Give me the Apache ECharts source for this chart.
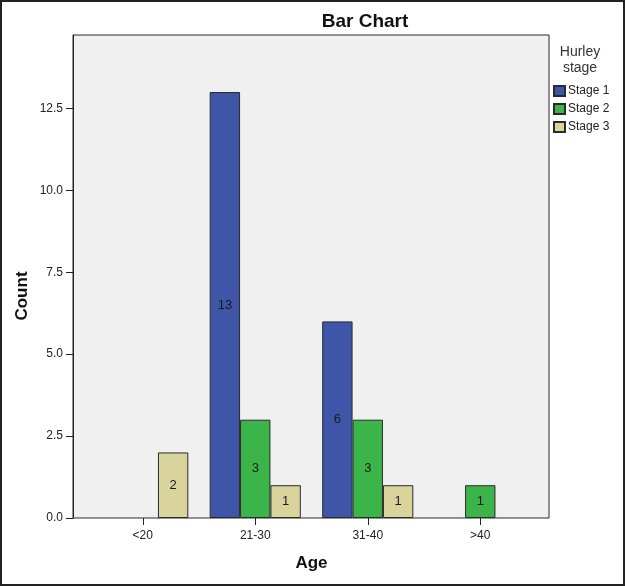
<!DOCTYPE html>
<html>
<head>
<meta charset="utf-8">
<script src="https://cdn.jsdelivr.net/npm/echarts@6/dist/echarts.min.js"></script>
<style>
  html, body { margin: 0; padding: 0; background: #fff; }
  #chart { width: 625px; height: 586px; }
</style>
</head>
<body>
<div id="chart"></div>
<script>
// data
const ageGroups = ['<20', '21-30', '31-40', '>40']
const stageNames = ['Stage 1', 'Stage 2', 'Stage 3']
const stage1 = [null, 13, 6, null]
const stage2 = [null, 3, 3, 1]
const stage3 = [2, 1, 1, null]
const yMax = 14.74

const colors = ['#3f55a8', '#3bb44a', '#d8d49c']
const stageData = [stage1, stage2, stage3]

const myChart = echarts.init(document.getElementById('chart'))

const series = stageNames.map((name, i) => {
  return {
    name: name,
    type: 'bar',
    xAxisIndex: 1,
    yAxisIndex: 1,
    data: stageData[i],
    barGap: '0%',
    barCategoryGap: '19%',
    itemStyle: {
      color: colors[i],
      borderColor: '#2a2a2a',
      borderWidth: 1
    },
    label: {
      show: true,
      position: 'inside',
      color: '#1a1a1a',
      fontSize: 13,
      fontFamily: 'Liberation Sans'
    },
    emphasis: { disabled: true }
  }
})

const option = {
  animation: false,
  textStyle: { fontFamily: 'Liberation Sans' },
  title: [
    {
      text: 'Bar Chart',
      left: 365,
      top: 12,
      textAlign: 'center',
      padding: 0,
      textStyle: { fontSize: 19, fontWeight: 'bold', color: '#111' }
    },
    {
      text: 'Hurley\nstage',
      left: 580,
      top: 44,
      textAlign: 'center',
      padding: 0,
      textStyle: { fontSize: 14, fontWeight: 'normal', color: '#333', lineHeight: 16 }
    }
  ],
  legend: {
    orient: 'vertical',
    left: 553,
    top: 85,
    padding: 0,
    itemWidth: 11,
    itemHeight: 10,
    itemGap: 6,
    icon: 'rect',
    data: stageNames,
    textStyle: { fontSize: 12, color: '#222', padding: [0, 0, 0, -2] }
  },
  grid: [
    {
      // frame of the plot area
      left: 73, top: 35, width: 476, height: 483,
      show: true,
      backgroundColor: '#f0f0f0',
      borderColor: '#2a2a2a',
      borderWidth: 1
    },
    {
      // bars sit in a slightly narrower band
      left: 86.5, top: 35, width: 450, height: 483
    }
  ],
  xAxis: [
    { type: 'value', gridIndex: 0, show: false },
    {
      type: 'category',
      gridIndex: 1,
      data: ageGroups,
      axisLine: { show: false },
      axisTick: { show: true, alignWithLabel: true, length: 7, lineStyle: { color: '#222' } },
      axisLabel: { fontSize: 12, color: '#222', margin: 12 },
      name: 'Age',
      nameLocation: 'middle',
      nameGap: 37,
      nameTextStyle: { fontSize: 17, fontWeight: 'bold', color: '#111' }
    }
  ],
  yAxis: [
    {
      type: 'value',
      gridIndex: 0,
      min: 0,
      max: yMax,
      interval: 2.5,
      axisLine: { show: true, lineStyle: { color: '#222' } },
      axisTick: { show: true, length: 7, lineStyle: { color: '#222' } },
      splitLine: { show: false },
      axisLabel: {
        fontSize: 12,
        color: '#222',
        margin: 10,
        showMaxLabel: false,
        formatter: (v) => (Math.abs(v / 2.5 - Math.round(v / 2.5)) < 1e-6 ? v.toFixed(1) : '')
      }
    },
    { type: 'value', gridIndex: 1, min: 0, max: yMax, show: false }
  ],
  graphic: [
    {
      type: 'text',
      x: 22,
      y: 296,
      rotation: Math.PI / 2,
      style: {
        text: 'Count',
        fontSize: 17,
        fontWeight: 'bold',
        fontFamily: 'Liberation Sans',
        fill: '#111',
        align: 'center',
        verticalAlign: 'middle'
      }
    },
    {
      type: 'rect',
      shape: { x: 1, y: 1, width: 623, height: 584 },
      style: { fill: 'none', stroke: '#222', lineWidth: 2 },
      silent: true
    }
  ],
  series: series
}

myChart.setOption(option)
</script>
</body>
</html>
